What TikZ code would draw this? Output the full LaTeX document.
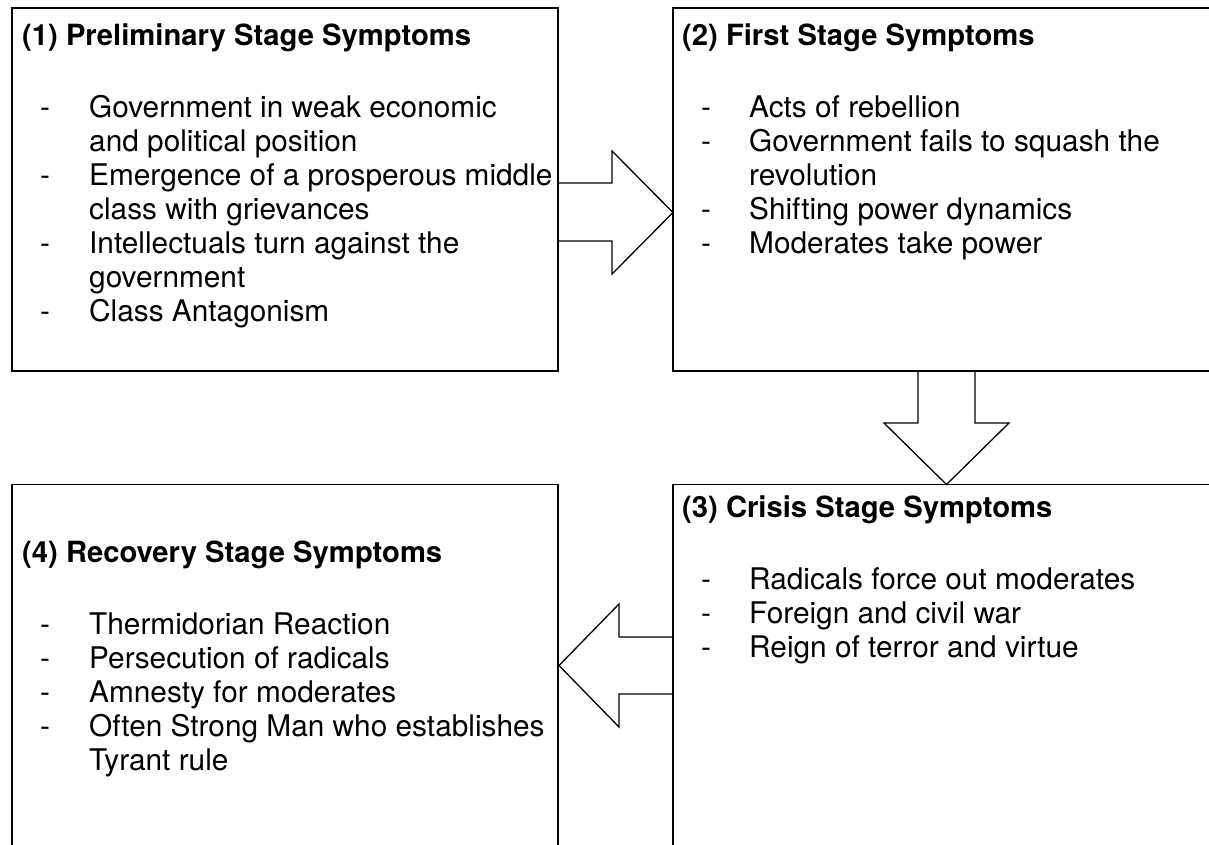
\documentclass[tikz,border=0pt]{standalone}
\usepackage{fontspec}
\setmainfont{TeX Gyre Heros}
\usetikzlibrary{calc}
\begin{document}
\begin{tikzpicture}[x=1pt,y=-1pt,
  box/.style={draw=black, line width=1.3pt, anchor=north west, inner sep=0pt, outer sep=0pt},
  head/.style={anchor=base west, inner sep=0pt, font=\fontsize{29.2}{34}\selectfont\bfseries},
  items/.style={anchor=base west, inner sep=0pt, font=\fontsize{29.8}{34}\selectfont},
  blockarrow/.style={draw=black, line width=1.3pt, line join=miter}]
\useasboundingbox (0,0) rectangle (1209,844);
\clip (0,0) rectangle (1209,844);
% boxes
\node[box, minimum width=546pt, minimum height=363pt] (b1) at (12,8) {};
\node[box, minimum width=560pt, minimum height=363pt] (b2) at (673,8) {};
\node[box, minimum width=560pt, minimum height=400pt] (b3) at (673,484.5) {};
\node[box, minimum width=546pt, minimum height=400pt] (b4) at (12,484.5) {};
% block arrows
\draw[blockarrow] ($(b1.north east)+(0,175)$) -- ++(54,0) -- ++(0,-32)
  -- ($(b2.north west)+(0,204.5)$) -- ($(b1.north east)+(54,266)$) -- ++(0,-33) -- ++(-54,0);
\draw[blockarrow] ($(b2.south west)+(245,0)$) -- ++(0,52) -- ++(-34,0)
  -- ($(b3.north west)+(273.5,0)$) -- ($(b2.south west)+(336,52)$) -- ++(-34,0) -- ++(0,-52);
\draw[blockarrow] ($(b3.north west)+(0,152.5)$) -- ++(-54,0) -- ++(0,-33)
  -- ($(b4.north east)+(1,181)$) -- ($(b3.north west)+(-54,242.5)$) -- ++(0,-33) -- ++(54,0);
% texts
\node[head] (h1) at (22,45) {(1) Preliminary Stage Symptoms};
\node[items] (l1) at (40,117) {\begin{tabular}[t]{@{}p{49pt}@{}l@{}}
- & Government in weak economic\\
  & and political position\\
- & Emergence of a prosperous middle\\
  & class with grievances\\
- & Intellectuals turn against the\\
  & government\\
- & Class Antagonism
\end{tabular}};
\node[head] (h2) at (682,45) {(2) First Stage Symptoms};
\node[items] (l2) at (701,117) {\begin{tabular}[t]{@{}p{48pt}@{}l@{}}
- & Acts of rebellion\\
- & Government fails to squash the\\
  & revolution\\
- & Shifting power dynamics\\
- & Moderates take power
\end{tabular}};
\node[head] (h3) at (682,517) {(3) Crisis Stage Symptoms};
\node[items] (l3) at (701,589) {\begin{tabular}[t]{@{}p{48pt}@{}l@{}}
- & Radicals force out moderates\\
- & Foreign and civil war\\
- & Reign of terror and virtue
\end{tabular}};
\node[head] (h4) at (22,562) {(4) Recovery Stage Symptoms};
\node[items] (l4) at (40,634) {\begin{tabular}[t]{@{}p{49pt}@{}l@{}}
- & Thermidorian Reaction\\
- & Persecution of radicals\\
- & Amnesty for moderates\\
- & Often Strong Man who establishes\\
  & Tyrant rule
\end{tabular}};
\end{tikzpicture}
\end{document}
